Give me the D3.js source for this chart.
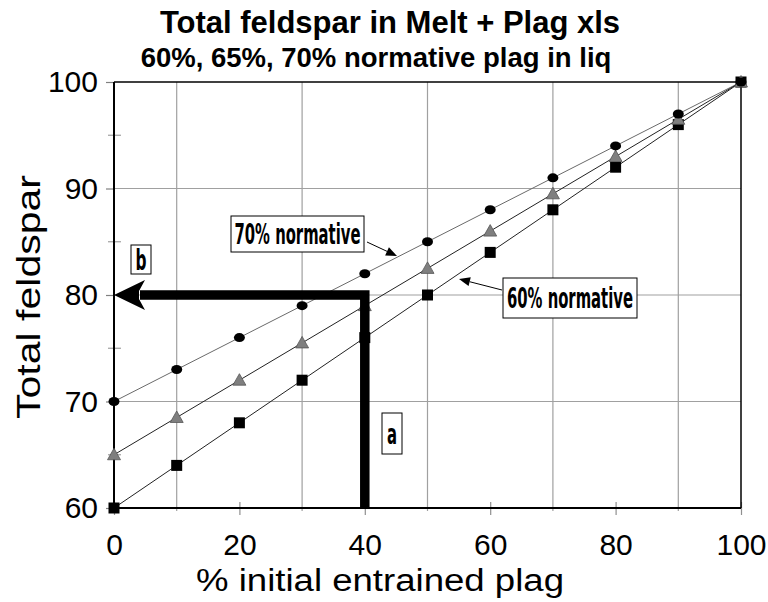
<!DOCTYPE html>
<html>
<head>
<meta charset="utf-8">
<script src="https://cdn.jsdelivr.net/npm/d3@7"></script>
<style>
  html, body { margin: 0; padding: 0; background: #fff; }
  svg { display: block; }
</style>
</head>
<body>
<svg id="chart" width="768" height="602"></svg>
<script>
// Entrained plagioclase (% of initial) on the x axis
const entrained = [0, 10, 20, 30, 40, 50, 60, 70, 80, 90, 100];
// Total feldspar for 70%, 65% and 60% normative plag in the liquid
const norm70 = [70, 73, 76, 79, 82, 85, 88, 91, 94, 97, 100];
const norm65 = [65, 68.5, 72, 75.5, 79, 82.5, 86, 89.5, 93, 96.5, 100];
const norm60 = [60, 64, 68, 72, 76, 80, 84, 88, 92, 96, 100];
const xTicks = [0, 20, 40, 60, 80, 100];
const xGrid = [10, 30, 50, 70, 90];
const yTicks = [60, 70, 80, 90, 100];
const yMinor = [65, 75, 85, 95];
const yGrid = [70, 80, 90];
// Reading path: 40% entrained plag on the 60% curve gives 80% total feldspar
const readX = 40, readY = 80;

const svg = d3.select("#chart");
const x = d3.scaleLinear().domain([0, 100]).range([114, 741]);
const y = d3.scaleLinear().domain([60, 100]).range([508, 82]);

const SANS = "'Liberation Sans', Arial, sans-serif";
const NARROW = "'Liberation Sans Narrow', 'DejaVu Sans Condensed', 'DejaVu Sans', sans-serif";

// grid
svg.append("g").selectAll("line").data(xGrid).join("line")
  .attr("x1", d => x(d)).attr("x2", d => x(d))
  .attr("y1", y(100)).attr("y2", y(60) + 3)
  .attr("stroke", "#a0a0a0").attr("stroke-width", 1.2);
svg.append("g").selectAll("line").data(yGrid).join("line")
  .attr("y1", d => y(d)).attr("y2", d => y(d))
  .attr("x1", x(0)).attr("x2", x(100))
  .attr("stroke", "#a0a0a0").attr("stroke-width", 1.2);

// axes via d3 axis generators, styled afterwards
const xAxis = svg.append("g").attr("transform", `translate(0,${y(60)})`)
  .call(d3.axisBottom(x).tickValues(xTicks).tickSize(7).tickPadding(19));
xAxis.select(".domain").remove();
xAxis.selectAll(".tick line").attr("y1", -6).attr("stroke", "#909090").attr("stroke-width", 1.2);
xAxis.selectAll(".tick text").attr("font-family", SANS).attr("font-size", 30).attr("fill", "#000");

const yAxis = svg.append("g").attr("transform", `translate(${x(0)},0)`)
  .call(d3.axisLeft(y).tickValues(yTicks).tickSize(8).tickPadding(8));
yAxis.select(".domain").remove();
yAxis.selectAll(".tick line").attr("stroke", "#808080").attr("stroke-width", 1.2);
yAxis.selectAll(".tick text").attr("font-family", SANS).attr("font-size", 30).attr("fill", "#000");

svg.append("g").selectAll("line").data(yMinor).join("line")
  .attr("y1", d => y(d)).attr("y2", d => y(d))
  .attr("x1", x(0) - 6).attr("x2", x(0) + 7)
  .attr("stroke", "#a0a0a0").attr("stroke-width", 1.2);

// plot frame
svg.append("line").attr("x1", x(0)).attr("x2", x(100)).attr("y1", y(100)).attr("y2", y(100)).attr("stroke", "#000").attr("stroke-width", 1.5);
svg.append("line").attr("x1", x(100)).attr("x2", x(100)).attr("y1", y(100)).attr("y2", y(60)).attr("stroke", "#000").attr("stroke-width", 1.5);
svg.append("line").attr("x1", x(0)).attr("x2", x(0)).attr("y1", y(100)).attr("y2", y(60)).attr("stroke", "#000").attr("stroke-width", 2);
svg.append("line").attr("x1", x(0)).attr("x2", x(100)).attr("y1", y(60)).attr("y2", y(60)).attr("stroke", "#000").attr("stroke-width", 2);

// series lines
const line = d3.line().x(d => x(d[0])).y(d => y(d[1]));
const series = [
  { vals: norm70, stroke: "#6a6a6a" },
  { vals: norm65, stroke: "#222" },
  { vals: norm60, stroke: "#222" }
];
series.forEach(s => {
  svg.append("path").datum(entrained.map((e, i) => [e, s.vals[i]]))
    .attr("d", line).attr("fill", "none").attr("stroke", s.stroke).attr("stroke-width", 1);
});

// markers
svg.append("g").selectAll("rect").data(entrained).join("rect")
  .attr("x", d => x(d) - 5.5).attr("y", (d, i) => y(norm60[i]) - 5.5)
  .attr("width", 11).attr("height", 11).attr("fill", "#000");
svg.append("g").selectAll("path").data(entrained).join("path")
  .attr("transform", (d, i) => `translate(${x(d)},${y(norm65[i])})`)
  .attr("d", "M0,-6.5L6.5,5L-6.5,5Z")
  .attr("fill", "#7f7f7f").attr("stroke", "#555").attr("stroke-width", 0.8);
svg.append("g").selectAll("ellipse").data(entrained).join("ellipse")
  .attr("cx", d => x(d)).attr("cy", (d, i) => y(norm70[i]))
  .attr("rx", 5.5).attr("ry", 4.5).attr("fill", "#000");

// reading path a -> b
svg.append("path")
  .attr("d", `M${x(readX)},${y(60)}V${y(readY)}H${x(0) + 26}`)
  .attr("fill", "none").attr("stroke", "#000").attr("stroke-width", 9.5)
  .attr("stroke-linejoin", "miter").attr("stroke-linecap", "butt");
svg.append("path")
  .attr("d", `M${x(0)},${y(readY)}L${x(0) + 31},${y(readY) - 15}L${x(0) + 25},${y(readY) - 4}L${x(0) + 25},${y(readY) + 4}L${x(0) + 31},${y(readY) + 15}Z`)
  .attr("fill", "#000");

// labelled boxes (condensed bold lettering squeezed to the box width)
function boxLabel(x0, y0, w, h, txt, size, tw) {
  svg.append("rect").attr("x", x0).attr("y", y0).attr("width", w).attr("height", h)
    .attr("fill", "#fff").attr("stroke", "#000").attr("stroke-width", 1);
  svg.append("text").attr("x", x0 + w / 2).attr("y", y0 + h / 2 + size * 0.36)
    .attr("text-anchor", "middle").attr("font-family", NARROW).attr("font-weight", "bold")
    .attr("font-stretch", "condensed")
    .attr("font-size", size).attr("fill", "#000")
    .attr("textLength", tw).attr("lengthAdjust", "spacingAndGlyphs")
    .text(txt);
}
function pointer(x1, y1, x2, y2) {
  const ang = Math.atan2(y2 - y1, x2 - x1);
  const L = 11, W = 4.5;
  const bx = x2 - L * Math.cos(ang), by = y2 - L * Math.sin(ang);
  svg.append("line").attr("x1", x1).attr("y1", y1).attr("x2", bx).attr("y2", by)
    .attr("stroke", "#000").attr("stroke-width", 1);
  svg.append("path").attr("d",
    `M${x2},${y2}L${bx - W * Math.sin(ang)},${by + W * Math.cos(ang)}L${bx + W * Math.sin(ang)},${by - W * Math.cos(ang)}Z`)
    .attr("fill", "#000");
}
boxLabel(231, 216, 133, 36, "70% normative", 28, 126);
pointer(367, 242, 397, 256);
boxLabel(503, 278, 134, 40, "60% normative", 29, 126);
pointer(502, 290, 459, 279);
boxLabel(131, 245, 20, 29, "b", 28, 11);
boxLabel(382, 413, 20, 41, "a", 28, 10);

// titles
svg.append("text").attr("x", 390).attr("y", 33).attr("text-anchor", "middle")
  .attr("font-family", SANS).attr("font-weight", "bold").attr("font-size", 31)
  .text("Total feldspar in Melt + Plag xls");
svg.append("text").attr("x", 376).attr("y", 67).attr("text-anchor", "middle")
  .attr("font-family", SANS).attr("font-weight", "bold").attr("font-size", 27.5)
  .text("60%, 65%, 70% normative plag in liq");
svg.append("text").attr("x", 380).attr("y", 591).attr("text-anchor", "middle")
  .attr("font-family", SANS).attr("font-size", 31)
  .attr("textLength", 368).attr("lengthAdjust", "spacingAndGlyphs")
  .text("% initial entrained plag");
svg.append("text").attr("transform", "translate(40,297) rotate(-90)").attr("text-anchor", "middle")
  .attr("font-family", SANS).attr("font-size", 33)
  .attr("textLength", 244).attr("lengthAdjust", "spacingAndGlyphs")
  .text("Total feldspar");
</script>
</body>
</html>
